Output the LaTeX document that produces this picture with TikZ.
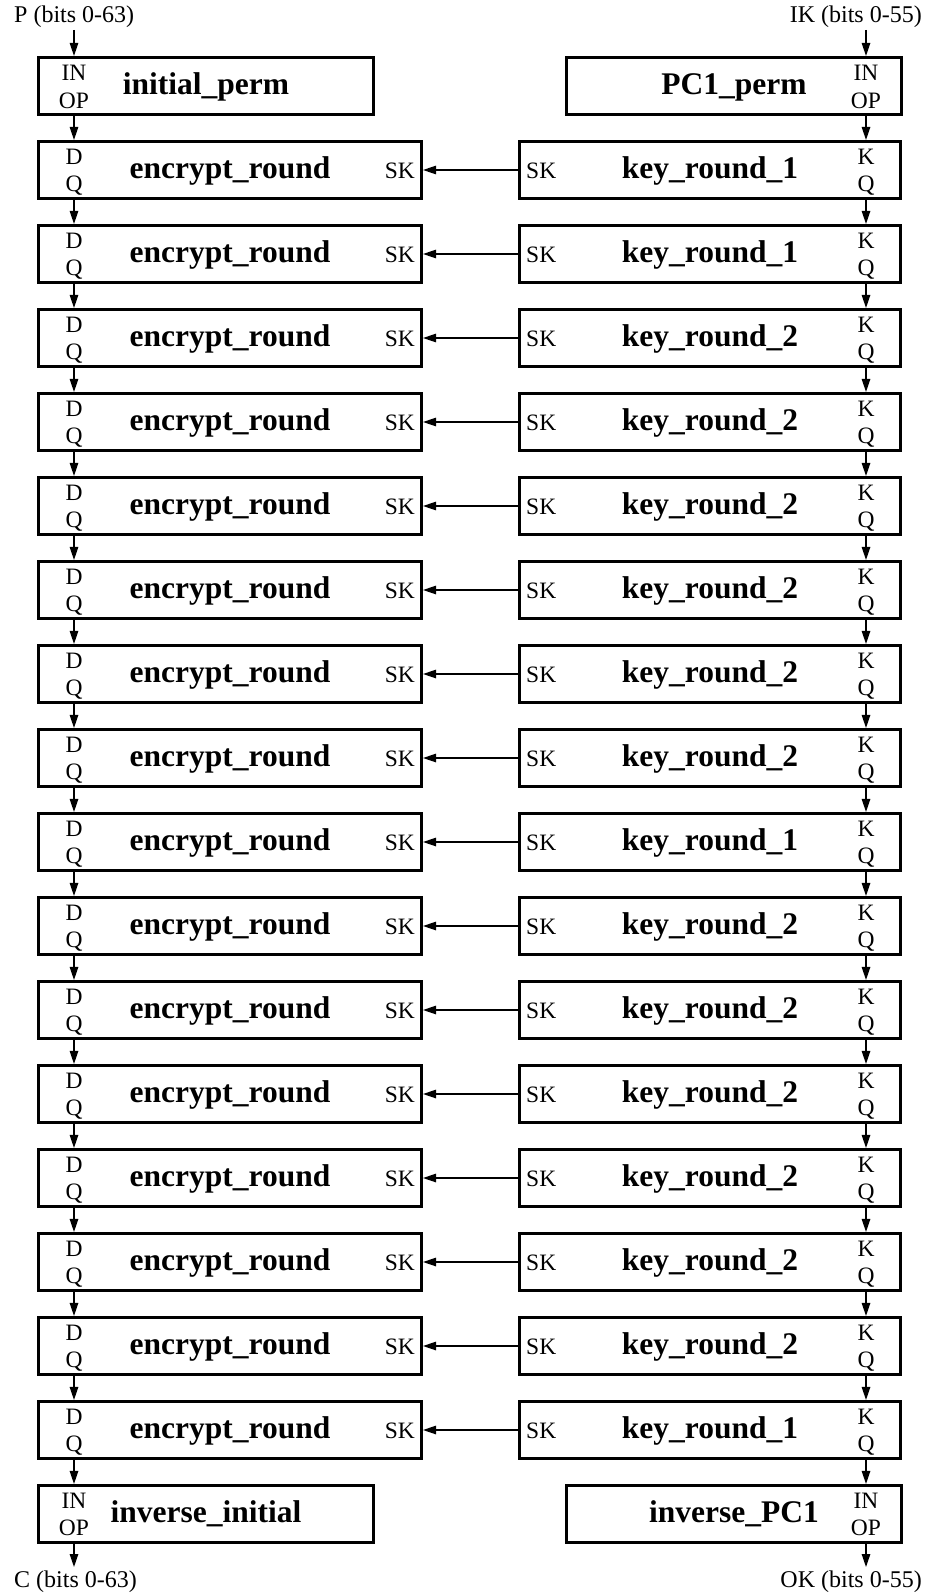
\documentclass[tikz,border=0pt]{standalone}
\usepackage{fontspec}
\setmainfont{Liberation Serif}
\usetikzlibrary{arrows.meta,calc}
\begin{document}
\begin{tikzpicture}[x=1pt,y=-1pt,
  blk/.style={draw, line width=2.6pt, minimum height=57.5pt, inner sep=0pt,
    font=\bfseries\fontsize{31.5}{36}\selectfont, text height=23pt, text depth=7pt},
  encbox/.style={blk, minimum width=383.5pt},
  keybox/.style={blk, minimum width=381.5pt},
  permbox/.style={blk, minimum width=335.5pt},
  port/.style={font=\fontsize{23.5}{26}\selectfont, inner sep=0pt, anchor=base},
  lblw/.style={font=\fontsize{24}{28}\selectfont, inner sep=0pt, anchor=base west},
  lble/.style={font=\fontsize{24}{28}\selectfont, inner sep=0pt, anchor=base east},
  arr/.style={line width=1.3pt, -{Triangle[length=13pt,width=8.5pt]}}
]
\useasboundingbox (0,0) rectangle (939,1595);

% top labels
\node[lblw] (plbl) at (14,22.7) {P (bits 0-63)};
\node[lble] (iklbl) at (922,22.7) {IK (bits 0-55)};
\coordinate (pin) at (74,30);
\coordinate (kin) at (866,30);

% permutation boxes
\node[permbox] (ip) at (206,86) {initial\_perm};
\node[permbox] (pc) at (734,86) {PC1\_perm};
\node[port] at (74,81) {IN};
\node[port] at (74,108) {OP};
\node[port] at (866,81) {IN};
\node[port] at (866,108) {OP};

% rounds
\foreach \i/\k in {1/1,2/1,3/2,4/2,5/2,6/2,7/2,8/2,9/1,10/2,11/2,12/2,13/2,14/2,15/2,16/1} {
  \pgfmathsetmacro\yy{170+(\i-1)*84}
  \node[encbox] (e\i) at (230,\yy) {encrypt\_round};
  \node[keybox] (k\i) at (710,\yy) {key\_round\_\k};
  \node[port] at (74,\yy-6) {D};
  \node[port] at (74,\yy+21.5) {Q};
  \node[port, anchor=base east] at (415,\yy+8) {SK};
  \node[port, anchor=base west] at (526,\yy+8) {SK};
  \node[port] at (866,\yy-6) {K};
  \node[port] at (866,\yy+21.5) {Q};
  \draw[arr] (k\i.west) -- (e\i.east);
}

% inverse boxes
\node[permbox] (ii) at (206,1514) {inverse\_initial};
\node[permbox] (ipc) at (734,1514) {inverse\_PC1};
\node[port] at (74,1508) {IN};
\node[port] at (74,1535) {OP};
\node[port] at (866,1508) {IN};
\node[port] at (866,1535) {OP};

% bottom labels
\node[lblw] (clbl) at (14,1587) {C (bits 0-63)};
\node[lble] (oklbl) at (922,1587) {OK (bits 0-55)};
\coordinate (pout) at (74,1567);
\coordinate (kout) at (866,1567);

% vertical arrows
\draw[arr] (pin) -- (pin |- ip.north);
\draw[arr] (kin) -- (kin |- pc.north);
\draw[arr] (ip.south -| pin) -- (e1.north -| pin);
\draw[arr] (pc.south -| kin) -- (k1.north -| kin);
\foreach \i [count=\j from 2] in {1,...,15} {
  \draw[arr] (e\i.south -| pin) -- (e\j.north -| pin);
  \draw[arr] (k\i.south -| kin) -- (k\j.north -| kin);
}
\draw[arr] (e16.south -| pin) -- (ii.north -| pin);
\draw[arr] (k16.south -| kin) -- (ipc.north -| kin);
\draw[arr] (ii.south -| pin) -- (pout);
\draw[arr] (ipc.south -| kin) -- (kout);
\end{tikzpicture}
\end{document}
